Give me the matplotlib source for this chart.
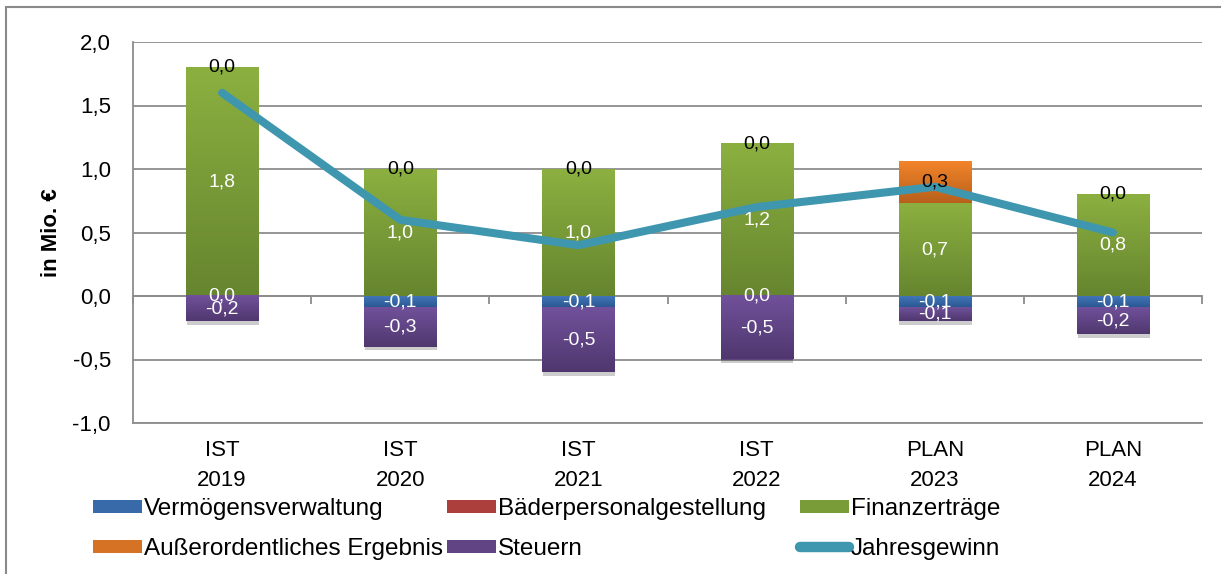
import matplotlib
matplotlib.use('Agg')
import matplotlib.pyplot as plt
import numpy as np
from matplotlib.colors import LinearSegmentedColormap
import matplotlib.patheffects as pe
from matplotlib.lines import Line2D
from matplotlib.patches import Patch, Rectangle
from matplotlib.ticker import FuncFormatter

plt.rcParams['font.family'] = ['Liberation Sans', 'DejaVu Sans']

# ---------------- data ----------------
categories = ['IST\n2019', 'IST\n2020', 'IST\n2021', 'IST\n2022', 'PLAN\n2023', 'PLAN\n2024']
vermoegensverwaltung = [0.0, -0.09, -0.09, 0.0, -0.09, -0.09]
baederpersonal = [0.0, 0.0, 0.0, 0.0, 0.0, 0.0]
finanzertraege = [1.80, 1.00, 1.00, 1.20, 0.73, 0.80]
ausserordentlich = [0.0, 0.0, 0.0, 0.0, 0.33, 0.0]
steuern = [-0.20, -0.31, -0.51, -0.50, -0.11, -0.21]
jahresgewinn = [1.60, 0.60, 0.40, 0.70, 0.86, 0.50]

series = [
    # name, values, top color, bottom color, label color (None = no labels)
    ('Vermögensverwaltung', vermoegensverwaltung, '#4379BC', '#2C5893', 'white'),
    ('Bäderpersonalgestellung', baederpersonal, '#C2504D', '#952C2A', None),
    ('Finanzerträge', finanzertraege, '#8CB040', '#66852F', 'white'),
    ('Außerordentliches Ergebnis', ausserordentlich, '#F2842A', '#B8601B', 'black'),
    ('Steuern', steuern, '#71519B', '#4F376E', 'white'),
]
line_color = '#3E97AF'
grid_color = '#8C8C8C'

W, H = 1221, 574
fig = plt.figure(figsize=(W / 100, H / 100), dpi=100)
ax = fig.add_axes([133 / W, 1 - 423 / H, (1202 - 133) / W, (423 - 42) / H])

x = np.arange(len(categories))
bar_w = 0.405
pos_base = np.zeros(len(categories))
neg_base = np.zeros(len(categories))

def fmt(v):
    s = f"{v:.1f}"
    if s == '-0.0':
        s = '0.0'
    return s.replace('.', ',')

def mid_color(ctop, cbot):
    return (np.array(matplotlib.colors.to_rgb(ctop)) + np.array(matplotlib.colors.to_rgb(cbot))) / 2

label_items = []
for name, vals, ctop, cbot, lcol in series:
    vals = np.array(vals, dtype=float)
    bottoms = np.where(vals >= 0, pos_base, neg_base)
    bars = ax.bar(x, vals, bar_w, bottom=bottoms, color=mid_color(ctop, cbot), edgecolor='none', zorder=2,
                  path_effects=[pe.SimplePatchShadow(offset=(0.5, -2.5), shadow_rgbFace='k', alpha=0.2),
                                pe.Normal()])
    cmap = LinearSegmentedColormap.from_list(name, [ctop, cbot])
    for b, v in zip(bars, vals):
        if v == 0:
            continue
        x0 = b.get_x()
        y0 = b.get_y()
        h = b.get_height()
        ylo, yhi = min(y0, y0 + h), max(y0, y0 + h)
        ax.imshow(np.linspace(0, 1, 256).reshape(-1, 1), cmap=cmap, origin='upper',
                  extent=[x0, x0 + b.get_width(), ylo, yhi], aspect='auto', zorder=2.1,
                  interpolation='bilinear')
    if lcol is not None:
        for xi, v, bt in zip(x, vals, bottoms):
            label_items.append((xi, bt + v / 2, fmt(v), lcol))
    pos_base = pos_base + np.where(vals >= 0, vals, 0)
    neg_base = neg_base + np.where(vals < 0, vals, 0)

ax.plot(x, jahresgewinn, color=line_color, lw=5.8, solid_capstyle='round',
        solid_joinstyle='round', zorder=4)

for xi, yi, txt, col in label_items:
    ax.text(xi, yi, txt, ha='center', va='center', fontsize=14, color=col, zorder=5)

ax.set_xlim(-0.5, len(categories) - 0.5)
ax.set_ylim(-1.0, 2.0)
ax.set_yticks(np.arange(-1.0, 2.01, 0.5))
ax.yaxis.set_major_formatter(FuncFormatter(lambda v, p: fmt(v)))
ax.set_xticks(x, categories)
ax.tick_params(axis='x', length=0, pad=12, labelsize=16)
ax.tick_params(axis='y', length=0, pad=16, labelsize=16)
for t in ax.get_xticklabels():
    t.set_linespacing(1.6)

ax.grid(axis='y', color=grid_color, lw=1.3)
ax.set_axisbelow(True)
for s in ['top', 'right']:
    ax.spines[s].set_visible(False)
for s in ['left', 'bottom']:
    ax.spines[s].set_color(grid_color)
    ax.spines[s].set_linewidth(1.3)

# category boundary ticks on the zero line
sec = ax.secondary_xaxis((0 - (-1.0)) / 3.0)
sec.set_xticks(np.arange(-0.5, len(categories), 1.0))
sec.tick_params(axis='x', direction='out', length=6, width=1.3, color=grid_color,
                labelbottom=False, labeltop=False)
for s in ['bottom', 'top']:
    sec.spines[s].set_color(grid_color)
    sec.spines[s].set_linewidth(1.3)

ax.set_ylabel('in Mio. €', fontsize=16, fontweight='bold')
ax.yaxis.set_label_coords(-0.066, 0.5)

# legend: three columns placed like the original
handles = {name: Patch(facecolor=mid_color(ct, cb), edgecolor='none') for name, _, ct, cb, _ in series}
handles['Jahresgewinn'] = Line2D([], [], color=line_color, lw=7.5, solid_capstyle='round')
columns = [
    (93, ['Vermögensverwaltung', 'Außerordentliches Ergebnis']),
    (447, ['Bäderpersonalgestellung', 'Steuern']),
    (800, ['Finanzerträge', 'Jahresgewinn']),
]
for xpix, names in columns:
    fig.legend([handles[n] for n in names], names, loc='center left',
               bbox_to_anchor=(xpix / W, 1 - 529 / H), frameon=False,
               fontsize=17.5, borderpad=0, borderaxespad=0, handlelength=2.0,
               handleheight=0.48, handletextpad=0.1, labelspacing=0.74)

# outer chart border
fig.add_artist(Rectangle((6 / W, -0.05), 1.2, 1 - 7 / H + 0.05, transform=fig.transFigure,
                         fill=False, edgecolor='#8A8A8A', lw=1.5))

fig.savefig('out.png', dpi=100)
